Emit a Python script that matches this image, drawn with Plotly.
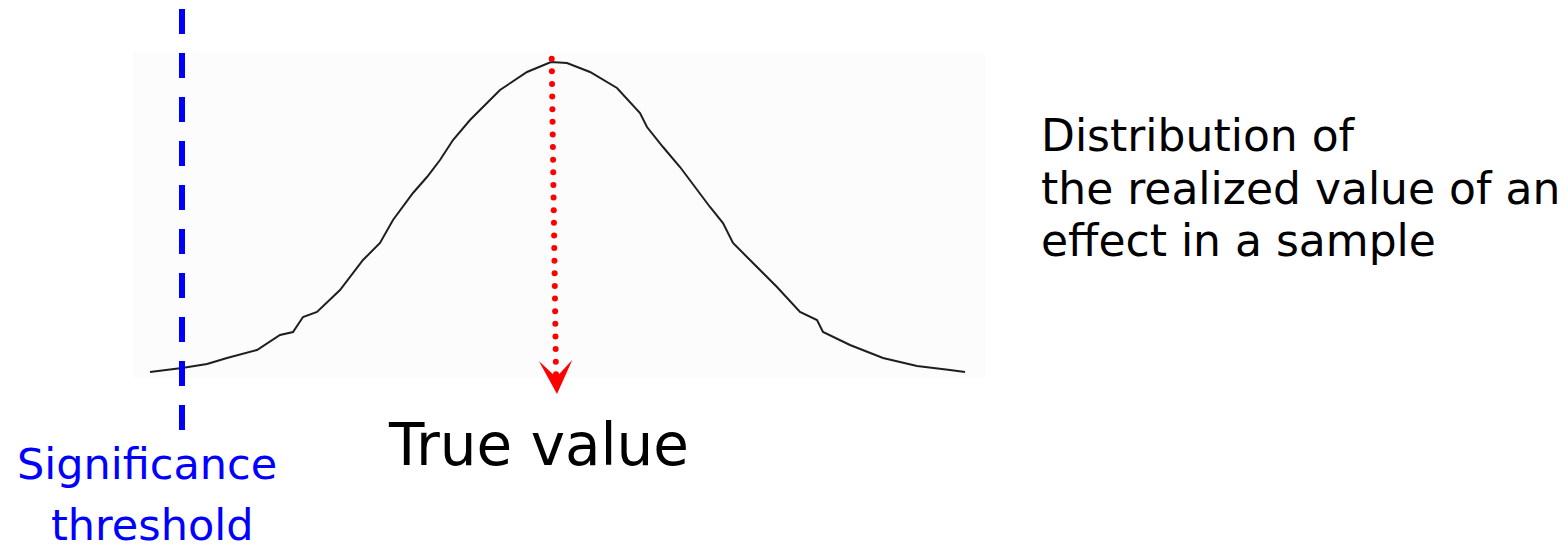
import numpy as np
import plotly.graph_objects as go

# ---- data (x = effect value, y = density height) ----
curve_x = [150, 182, 207, 227, 257, 280, 293, 303, 317, 340, 363, 380, 393, 413,
           427, 440, 453, 470, 487, 500, 527, 551, 567, 590, 617, 640, 647, 663,
           680, 697, 710, 723, 733, 750, 777, 800, 817, 823, 850, 883, 917, 950, 965]
curve_y = [177, 181, 185, 191, 199, 214, 217, 232, 237, 259, 289, 306, 329, 356,
           372, 389, 409, 429, 446, 459, 477, 487, 486, 477, 461, 436, 422, 402,
           382, 359, 342, 326, 306, 289, 262, 237, 229, 217, 204, 191, 183, 179, 177]

threshold_x = 182
threshold_y = [540, 119]

true_top = (551.7, 490.3)
true_dot_end = (556.0, 174.7)
true_tip = (557.0, 155.0)
true_head_tail = (556.3, 172.0)

label_true = "True value"
label_threshold = ["Significance", "threshold"]
label_dist = ["Distribution of", "the realized value of an", "effect in a sample"]

FONT = "DejaVu Sans"

fig = go.Figure()

# faint background box behind the curve
fig.add_shape(type="rect", x0=133, x1=985, y0=171, y1=497,
              fillcolor="#fcfcfc", line=dict(width=0), layer="below")

# distribution curve
fig.add_trace(go.Scatter(x=curve_x, y=curve_y, mode="lines",
                         line=dict(color="#1e1e1e", width=2),
                         hoverinfo="skip", showlegend=False))

# significance threshold (blue dashed)
fig.add_trace(go.Scatter(x=[threshold_x, threshold_x], y=threshold_y, mode="lines",
                         line=dict(color="#0000ff", width=6, dash="25px,19px"),
                         hoverinfo="skip", showlegend=False))

# true value dotted arrow (red)
n_dots = 26
dx = np.linspace(true_top[0], true_dot_end[0], n_dots)
dy = np.linspace(true_top[1], true_dot_end[1], n_dots)
fig.add_trace(go.Scatter(x=dx, y=dy, mode="markers",
                         marker=dict(color="#ff0000", size=6, line=dict(width=0)),
                         hoverinfo="skip", showlegend=False))
fig.add_annotation(x=true_tip[0], y=true_tip[1], ax=true_head_tail[0], ay=true_head_tail[1],
                   xref="x", yref="y", axref="x", ayref="y", text="",
                   showarrow=True, arrowhead=3, arrowsize=2.8, arrowwidth=2,
                   arrowcolor="#ff0000", standoff=0)

# texts
fig.add_annotation(x=386, y=104, xref="x", yref="y", text=label_true, showarrow=False,
                   xanchor="left", yanchor="middle",
                   font=dict(family=FONT, size=58, color="#000000"))

for txt, xc, yc in zip(label_threshold, [147, 152], [85, 24]):
    fig.add_annotation(x=xc, y=yc, xref="x", yref="y", text=txt, showarrow=False,
                       xanchor="center", yanchor="middle",
                       font=dict(family=FONT, size=43, color="#0000ff"))

for txt, yc in zip(label_dist, [414, 361, 309]):
    fig.add_annotation(x=1039, y=yc, xref="x", yref="y", text=txt, showarrow=False,
                       xanchor="left", yanchor="middle",
                       font=dict(family=FONT, size=44, color="#000000"))

fig.update_xaxes(range=[0, 1568], visible=False, fixedrange=True)
fig.update_yaxes(range=[0, 549], visible=False, fixedrange=True)
fig.update_layout(width=1568, height=549, margin=dict(l=0, r=0, t=0, b=0),
                  plot_bgcolor="#ffffff", paper_bgcolor="#ffffff", showlegend=False)

fig.write_html("out.html", config={"displayModeBar": False},
               post_script="document.body.style.margin='0';document.body.style.overflow='hidden';")
